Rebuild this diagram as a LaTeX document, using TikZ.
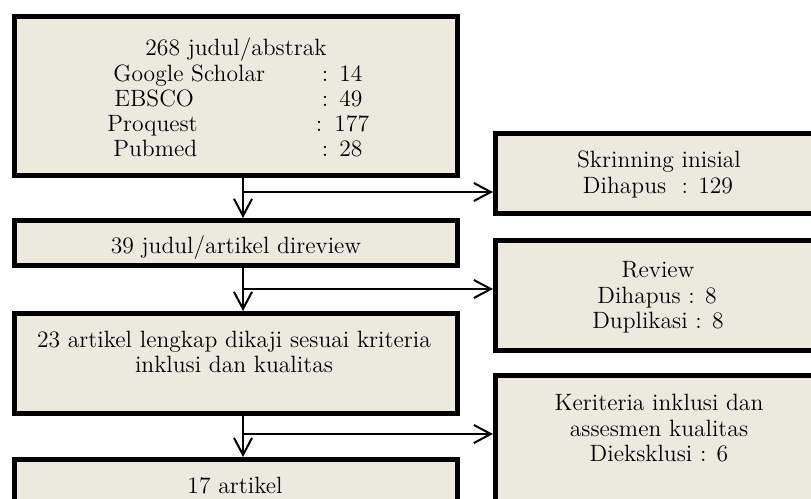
\documentclass[tikz,border=0pt]{standalone}
\usetikzlibrary{arrows.meta}
\definecolor{boxfill}{RGB}{236,233,223}
\begin{document}
\begin{tikzpicture}[x=0.5pt,y=-0.5pt,
  box/.style={draw=black,fill=boxfill,line width=2.5pt,inner sep=0pt,rectangle},
  txt/.style={font=\fontsize{11.8}{13}\selectfont,inner sep=0pt,anchor=base},
  lbl/.style={txt,anchor=base west},
  arr/.style={line width=1pt,-{Straight Barb[length=8.5pt,width=9pt,line width=1pt]}}]
\useasboundingbox (0,0) rectangle (811,499);
\clip (0,0) rectangle (811,499);
% boxes
\node[box,minimum width=221.5pt,minimum height=79.5pt] (b1) at (236,96) {};
\node[box,minimum width=221.5pt,minimum height=22.5pt] (b2) at (236,243) {};
\node[box,minimum width=221.5pt,minimum height=50pt] (b3) at (236,363.5) {};
\node[box,minimum width=221.5pt,minimum height=29pt] (b4) at (236,488.5) {};
\node[box,minimum width=162.5pt,minimum height=40pt] (skr) at (658,173) {};
\node[box,minimum width=162.5pt,minimum height=55pt] (rev) at (658,295.5) {};
\node[box,minimum width=162.5pt,minimum height=72.25pt] (ker) at (658,447.75) {};
% box 1 text
\node[txt] (t1) at (236,55) {268 judul/abstrak};
\node[lbl] (g1) at (113,81) {Google Scholar};
\node[txt] (g2) at (325,81) {:};
\node[lbl] (g3) at (339,81) {14};
\node[lbl] (e1) at (114,106) {EBSCO};
\node[txt] (e2) at (325,106) {:};
\node[lbl] (e3) at (339,106) {49};
\node[lbl] (p1) at (107,131) {Proquest};
\node[txt] (p2) at (319,131) {:};
\node[lbl] (p3) at (334,131) {177};
\node[lbl] (m1) at (113,156) {Pubmed};
\node[txt] (m2) at (325,156) {:};
\node[lbl] (m3) at (339,156) {28};
% other texts
\node[txt] (t2) at (236,253) {39 judul/artikel direview};
\node[txt] (t3a) at (234,347) {23 artikel lengkap dikaji sesuai kriteria};
\node[txt] (t3b) at (234,372) {inklusi dan kualitas};
\node[txt] (t4) at (235,493) {17 artikel};
\node[txt] (s1) at (659,167) {Skrinning inisial};
\node[txt] (s2) at (658,193) {Dihapus\ \ : 129};
\node[txt] (r1) at (658,277) {Review};
\node[txt] (r2) at (657,303) {Dihapus : 8};
\node[txt] (r3) at (658,328) {Duplikasi : 8};
\node[txt] (k1) at (659,410) {Keriteria inklusi dan};
\node[txt] (k2) at (659,436) {assesmen kualitas};
\node[txt] (k3) at (659,461) {Dieksklusi : 6};
% connectors
\coordinate (vx) at (243,0);
\coordinate (j1) at (243,192);
\coordinate (j2) at (243,289);
\coordinate (j3) at (243,434);
\draw[arr] (vx |- b1.south) -- (vx |- b2.north);
\draw[arr] (vx |- b2.south) -- (vx |- b3.north);
\draw[arr] (vx |- b3.south) -- (vx |- b4.north);
\draw[arr] (j1) -- (j1 -| skr.west);
\draw[arr] (j2) -- (j2 -| rev.west);
\draw[arr] (j3) -- (j3 -| ker.west);
\end{tikzpicture}
\end{document}
